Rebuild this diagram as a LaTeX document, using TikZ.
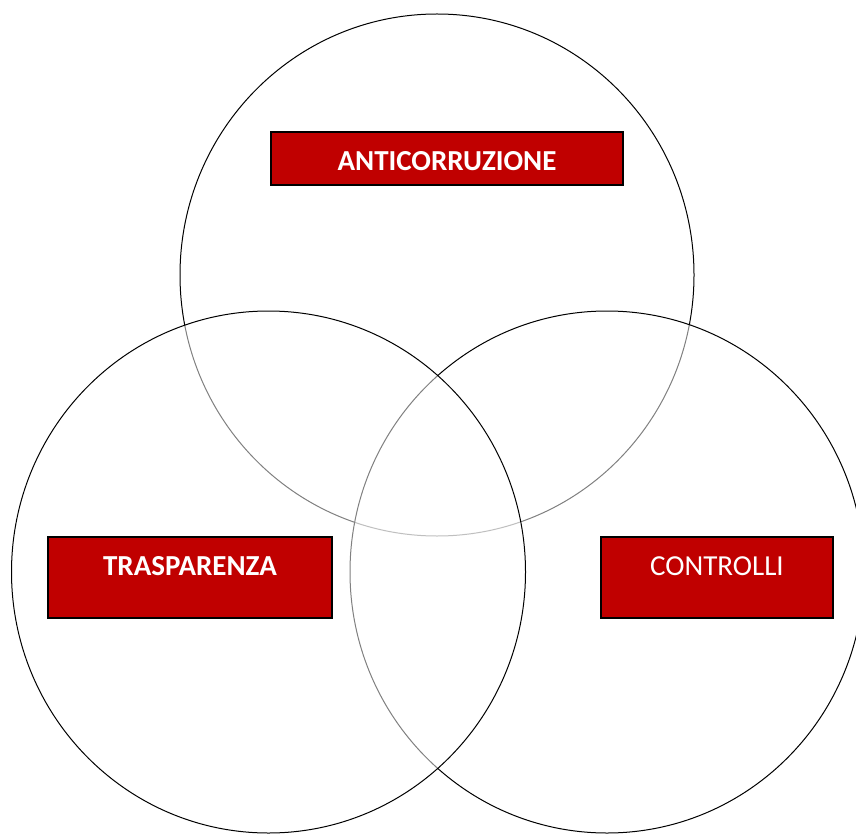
\documentclass[tikz,border=0pt]{standalone}
\usepackage{fontspec}
\setmainfont{Carlito}
\begin{document}
\begin{tikzpicture}[x=1pt,y=-1pt]
    \definecolor{venn_red}{RGB}{192,0,0}
    \tikzset{
      venn_circle/.style={draw=black,line width=1pt,fill=white,fill opacity=0.5},
      venn_box/.style={shape=rectangle,draw=black,line width=1.6pt,fill=venn_red,text=white,font=\fontsize{29}{34}\selectfont,inner sep=0pt}
    }
    \useasboundingbox (0,0) rectangle (856,834);
    \draw[venn_circle] (437,275) ellipse [x radius=257,y radius=261];
    \draw[venn_circle] (607,572) ellipse [x radius=257,y radius=261];
    \draw[venn_circle] (268.5,572) ellipse [x radius=257,y radius=261];
    \node[venn_box,minimum width=352,minimum height=53,text height=25,text depth=0] (anticorr) at (447,158.5) {\bfseries ANTICORRUZIONE};
    \node[venn_box,minimum width=284,minimum height=81,text height=19,text depth=24] (trasp) at (190,577.5) {\bfseries TRASPARENZA};
    \node[venn_box,minimum width=232,minimum height=81,text height=19,text depth=24] (controlli) at (717,577.5) {CONTROLLI};
\end{tikzpicture}
\end{document}
